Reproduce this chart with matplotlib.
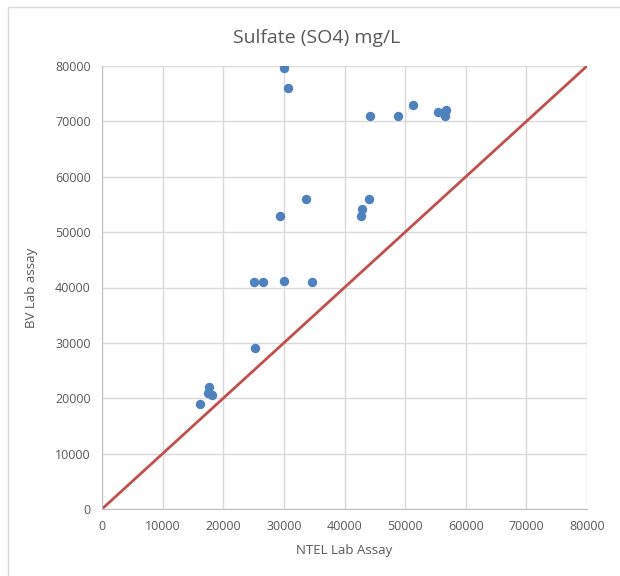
import matplotlib.pyplot as plt
import matplotlib.patches as patches
import numpy as np

# NTEL lab (x) vs BV lab (y), sulfate mg/L
ntel = [30100, 30700, 44200, 48800, 51300, 55400, 56700, 56500,
        33600, 29300, 44000, 42900, 42800,
        25100, 26600, 30100, 34700, 25200,
        17600, 17500, 18200, 16100]
bv = [79700, 76000, 71000, 71000, 73000, 71700, 72000, 70900,
      56000, 53000, 56000, 54200, 53000,
      41000, 41000, 41200, 41000, 29000,
      22000, 21000, 20500, 19000]
line_x = [0, 80000]
line_y = [0, 80000]
ticks = np.arange(0, 80001, 10000)

plt.rcParams['font.family'] = ['Open Sans', 'DejaVu Sans']
txt = '#595959'

fig = plt.figure(figsize=(6.2, 5.76), dpi=100)
# chart border
fig.patches.append(patches.Rectangle((8/620, -0.01), 1.0, 1 - 7/576 + 0.01,
                                     transform=fig.transFigure, fill=False,
                                     edgecolor='#d9d9d9', linewidth=1))

ax = fig.add_axes([102/620, 1 - 509/576, 485/620, 443/576])
ax.plot(line_x, line_y, color='#c0504d', linewidth=2, zorder=2)
ax.scatter(ntel, bv, s=46, color='#4f81bd', zorder=3, linewidths=0)

ax.set_xlim(0, 80000)
ax.set_ylim(0, 80000)
ax.set_xticks(ticks)
ax.set_yticks(ticks)
ax.grid(True, color='#d9d9d9', linewidth=1)
ax.set_axisbelow(True)
for s in ['top', 'right']:
    ax.spines[s].set_visible(False)
for s in ['bottom', 'left']:
    ax.spines[s].set_color('#bfbfbf')
ax.tick_params(length=0, labelsize=9, colors=txt, pad=8)

fig.text(317/620, 1 - 38/576, 'Sulfate (SO4) mg/L', fontsize=14, color=txt,
         ha='center', va='center')
ax.set_xlabel('NTEL Lab Assay', fontsize=9.5, color=txt, labelpad=8)
ax.set_ylabel('BV Lab assay', fontsize=9.5, color=txt, labelpad=12)

fig.savefig('out.png', dpi=100)
